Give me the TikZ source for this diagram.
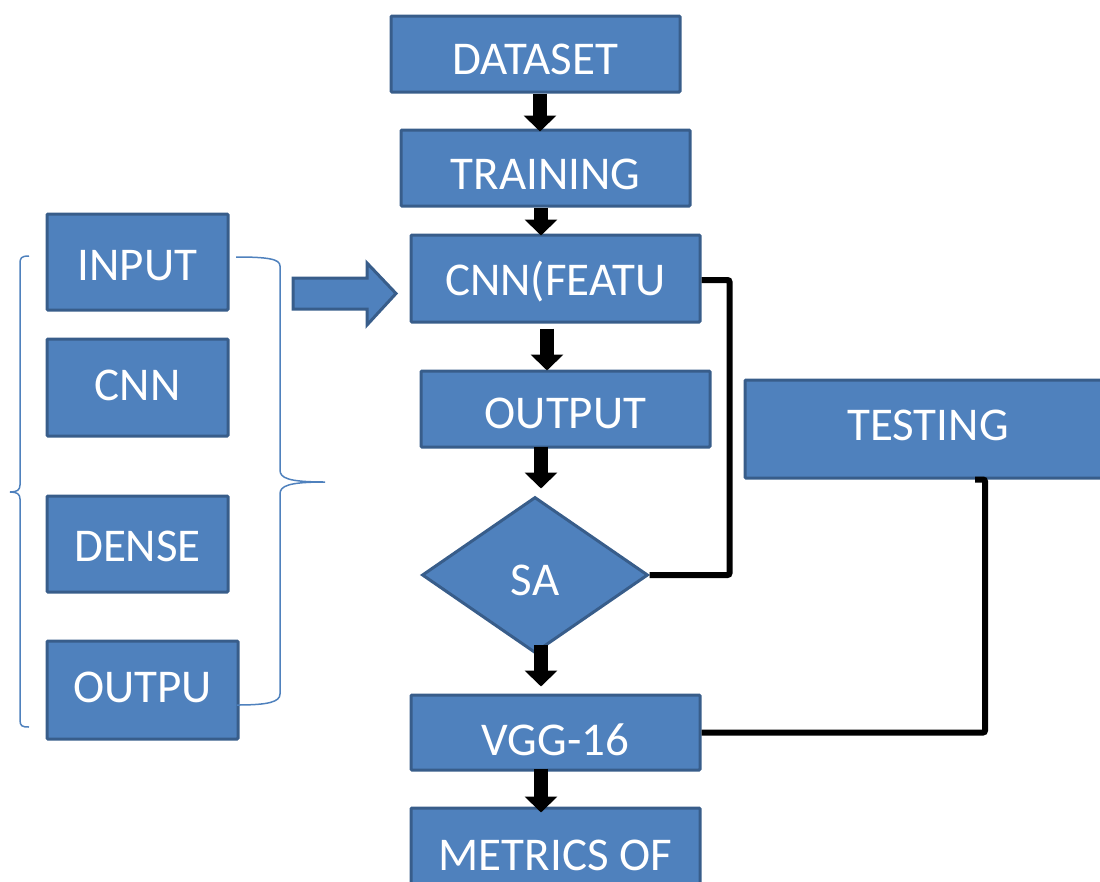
\documentclass[tikz,border=0pt]{standalone}
\usepackage{fontspec}
\setmainfont{Carlito}
\usetikzlibrary{shapes.geometric,arrows.meta}
\definecolor{fil}{HTML}{4F81BD}
\definecolor{bdr}{HTML}{385D8A}
\tikzset{
  box/.style={draw=bdr, fill=fil, line width=3pt, text=white, inner sep=0pt,
    font=\fontsize{47}{56}\selectfont, rectangle, rounded corners=1pt,
    text depth=0pt, text height=30pt},
  tlow/.style={text height=#1},
  flow/.style={line width=14pt, -{Triangle[length=16pt,width=32pt]}},
  link/.style={line width=6pt, rounded corners=2pt},
  brace/.style={draw=fil, line width=1.5pt}
}
\begin{document}
\begin{tikzpicture}[x=1pt,y=-1pt]
\useasboundingbox (0,0) rectangle (1100,881);
\clip (0,0) rectangle (1100,881);
% main column
\node[box, tlow=41pt, minimum width=289, minimum height=76] (dataset) at (535.5,54) {DATASET};
\node[box, tlow=43pt, minimum width=289, minimum height=76] (training) at (545.5,168) {TRAINING};
\node[box, tlow=33pt, minimum width=289, minimum height=87] (cnn) at (555.5,278.5) {CNN(FEATU};
\node[box, tlow=38pt, minimum width=289, minimum height=76] (output) at (565.5,409) {OUTPUT};
\node[box, tlow=40pt, diamond, rounded corners=0pt, minimum width=226, minimum height=156] (sa) at (535,575) {SA};
\node[box, tlow=45pt, minimum width=289, minimum height=75] (vgg) at (555.5,732.5) {VGG-16};
\node[box, minimum width=289, minimum height=94] (metrics) at (555.5,855) {METRICS OF};
\node[box, tlow=22pt, minimum width=366, minimum height=98] (testing) at (928,429) {TESTING};
% left column
\node[box, tlow=36pt, minimum width=181, minimum height=96] (in) at (137.5,262) {INPUT};
\node[box, tlow=26pt, minimum width=181, minimum height=97] (lcnn) at (137.5,387.5) {CNN};
\node[box, tlow=34pt, minimum width=181, minimum height=96] (dense) at (137.5,544) {DENSE};
\node[box, tlow=24pt, minimum width=191, minimum height=98] (outp) at (142.5,690) {OUTPU};
% flow arrows
\draw[flow, shorten >=-3pt] ([xshift=4.5pt]dataset.south) -- ([xshift=-5.5pt]training.north);
\draw[flow, shorten >=-2pt] ([xshift=-4.5pt]training.south) -- ([xshift=-14.5pt]cnn.north);
\draw[flow, shorten <=5pt, shorten >=-1pt] ([xshift=-8.5pt]cnn.south) -- ([xshift=-18.5pt]output.north);
\draw[flow, shorten <=-2pt, shorten >=7pt] ([xshift=-24.5pt]output.south) -- ([xshift=6pt]sa.north);
\draw[flow, shorten <=-10pt, shorten >=7pt] ([xshift=6pt]sa.south) -- ([xshift=-14.5pt]vgg.north);
\draw[flow, shorten <=-3pt, shorten >=-6pt] ([xshift=-14.5pt]vgg.south) -- ([xshift=-14.5pt]metrics.north);
% feedback connectors
\draw[link] ([yshift=-1.5pt]cnn.east) -- ++(28,0) |- (sa.east);
\coordinate (t1) at ([xshift=47pt]testing.south);
\draw[link] (t1) -- ++(10,0) |- (vgg.east);
% block arrow
\draw[draw=bdr, fill=fil, line width=3pt, line join=miter]
  (293,278) -- (367,278) -- (367,263) -- (396,293.5) -- (367,325) -- (367,309) -- (293,309) -- cycle;
% braces
\draw[brace] (29,256) .. controls (21,256) and (20,258) .. (20,264) -- (20,485)
  .. controls (20,490) and (17,492) .. (10,492)
  .. controls (17,492) and (20,494) .. (20,499) -- (20,720)
  .. controls (20,726) and (22,727) .. (29,727);
\draw[brace] (236,257) .. controls (268,257) and (280,259) .. (280,266) -- (280,470)
  .. controls (280,478) and (288,482) .. (325,482)
  .. controls (288,482) and (280,486) .. (280,494) -- (280,694)
  .. controls (280,702) and (268,705) .. (237,705);
\end{tikzpicture}
\end{document}
